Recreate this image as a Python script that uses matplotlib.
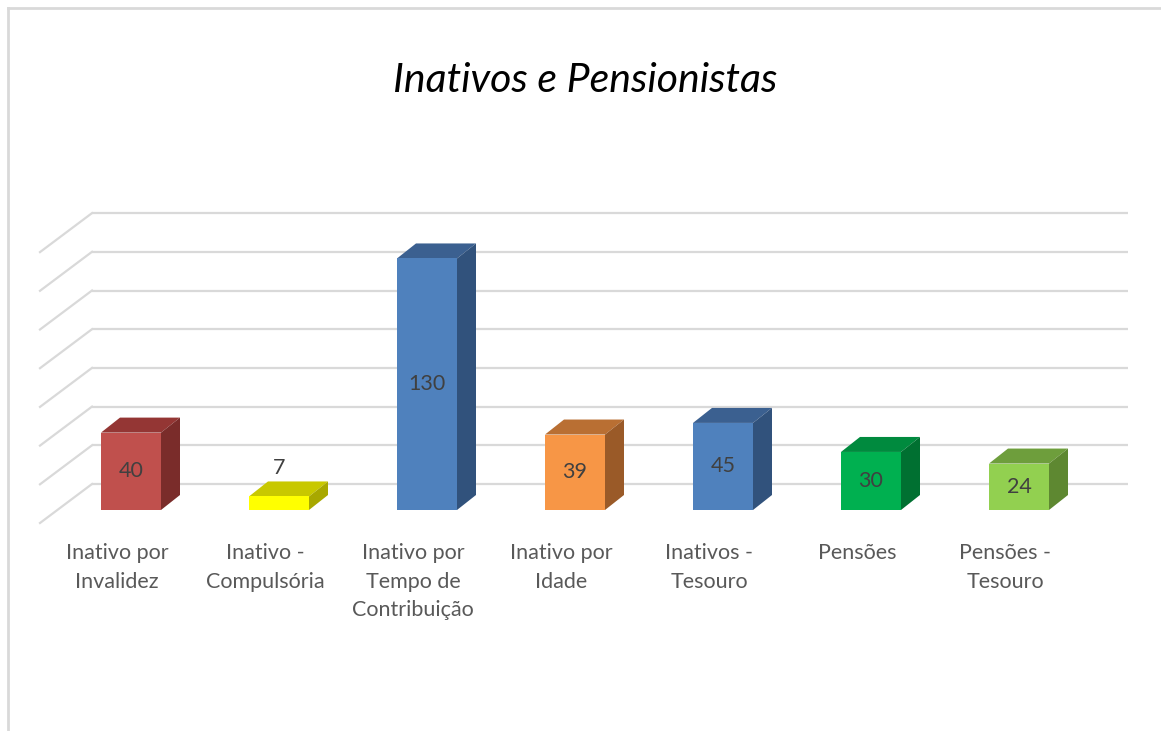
"""
Recreates the Excel-style 3D column chart "Inativos e Pensionistas".
"""

import matplotlib
matplotlib.use("Agg")
import matplotlib.pyplot as plt
from matplotlib.patches import Polygon, Rectangle

categories = [
    "Inativo por\nInvalidez",
    "Inativo -\nCompulsória",
    "Inativo por\nTempo de\nContribuição",
    "Inativo por\nIdade",
    "Inativos -\nTesouro",
    "Pensões",
    "Pensões -\nTesouro",
]
values = [40, 7, 130, 39, 45, 30, 24]

front_colors = ["#C0504D", "#FFFF00", "#4F81BD", "#F79646", "#4F81BD", "#00B050", "#92D050"]
top_colors = ["#943634", "#C8C800", "#3B6090", "#B96F33", "#3B6090", "#008A3E", "#6E9E3C"]
side_colors = ["#7A2C2A", "#A8A800", "#31527C", "#9A5A28", "#31527C", "#007031", "#5E8831"]

grid_levels = [0, 20, 40, 60, 80, 100, 120, 140]

W, H, DPI = 1161, 731, 100

# pixel geometry of the fake 3D projection
PX_X0 = 57        # left edge of the bar plane (px)
PX_CAT = 148      # width of one category (px)
PX_Y0 = 510       # value 0 on the bar plane (px from top)
PX_UNIT = 1.935   # px per value unit


def px_dx(px):
    return px / PX_CAT


def px_dy(px):
    return px / PX_UNIT


def run():
    fig = plt.figure(figsize=(W / DPI, H / DPI), dpi=DPI)
    ax = fig.add_axes([0, 0, 1, 1])
    ax.set_xlim(-0.5 - PX_X0 / PX_CAT, -0.5 + (W - PX_X0) / PX_CAT)
    ax.set_ylim(-(H - PX_Y0) / PX_UNIT, PX_Y0 / PX_UNIT)
    ax.axis("off")

    grid_c = "#D9D9D9"
    # back wall and left wall gridlines
    wall_dx, wall_dy = px_dx(35), px_dy(26)
    front_dx, front_dy = px_dx(-17), px_dy(-13)
    x_wall_l = -0.5 + wall_dx
    x_wall_r = -0.5 + (1128 - PX_X0) / PX_CAT
    for v in grid_levels:
        ax.plot([x_wall_l, x_wall_r], [v + wall_dy, v + wall_dy],
                color=grid_c, lw=1.6, zorder=1, solid_capstyle="butt")
        ax.plot([-0.5 + front_dx, x_wall_l], [v + front_dy, v + wall_dy],
                color=grid_c, lw=1.6, zorder=1)

    # bars
    bw = px_dx(60)
    ddx, ddy = px_dx(19), px_dy(15)
    for i, v in enumerate(values):
        xl, xr = i - bw / 2, i + bw / 2
        ax.add_patch(Polygon([(xl, v), (xl + ddx, v + ddy), (xr + ddx, v + ddy), (xr, v)],
                             closed=True, facecolor=top_colors[i], edgecolor="none", zorder=3))
        ax.add_patch(Polygon([(xr, 0), (xr + ddx, ddy), (xr + ddx, v + ddy), (xr, v)],
                             closed=True, facecolor=side_colors[i], edgecolor="none", zorder=3))
        ax.add_patch(Rectangle((xl, 0), bw, v, facecolor=front_colors[i],
                               edgecolor="none", zorder=4))
        if v < 10:
            ax.text(i, v + ddy + 7, str(v), ha="center", va="center",
                    fontsize=15.5, color="#404040", family="Lato", zorder=5)
        else:
            ax.text(i, v / 2, str(v), ha="center", va="center",
                    fontsize=15.5, color="#404040", family="Lato", zorder=5)

    for i, lab in enumerate(categories):
        ax.text(i - 0.095, -17, lab, ha="center", va="top", fontsize=15.5,
                color="#595959", family="Lato", linespacing=1.55)

    fig.text(585 / W, 1 - 81 / H, "Inativos e Pensionistas", ha="center", va="center",
             fontsize=29.5, style="italic", color="#000000", family="Lato")

    # chart frame (top and left edges visible)
    fig.add_artist(plt.Line2D([8 / W, 8 / W], [0, 1 - 8 / H], transform=fig.transFigure,
                              color="#D9D9D9", lw=2))
    fig.add_artist(plt.Line2D([8 / W, 1], [1 - 8 / H, 1 - 8 / H], transform=fig.transFigure,
                              color="#D9D9D9", lw=2))

    fig.savefig("out.png", dpi=DPI, facecolor="white")


if __name__ == "__main__":
    run()
